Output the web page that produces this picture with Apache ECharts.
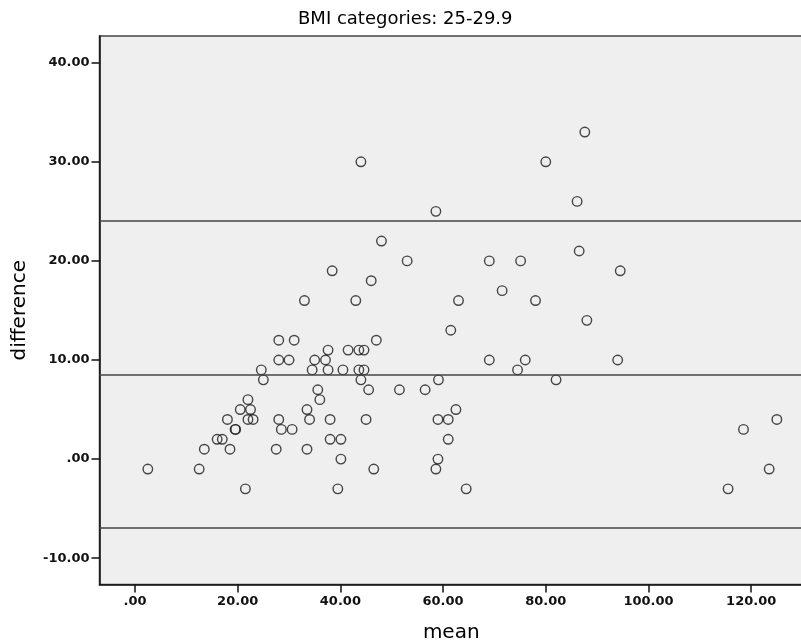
<!DOCTYPE html>
<html>
<head>
<meta charset="utf-8">
<script src="https://cdn.jsdelivr.net/npm/echarts@6/dist/echarts.min.js"></script>
<style>
html,body{margin:0;padding:0;background:#fff;}
#chart{width:801px;height:640px;}
</style>
</head>
<body>
<div id="chart"></div>
<script>
// Bland-Altman style data: mean (x) and difference (y)
const meanVals = [
  87.6,
  44.0, 80.0,
  86.1,
  58.6,
  48.0,
  86.5,
  53.0, 69.0, 75.1,
  38.4, 94.5,
  46.0,
  71.5,
  33.0, 43.0, 63.0, 78.0,
  88.0,
  61.5,
  28.0, 31.0, 47.0,
  37.6, 41.5, 43.6, 44.6,
  28.0, 30.0, 35.0, 37.1, 69.0, 76.0, 94.0,
  24.6, 34.5, 37.6, 40.5, 43.6, 44.6, 74.5,
  25.0, 44.0, 59.1, 82.0,
  35.6, 45.5, 51.5, 56.5,
  22.0, 36.0,
  20.5, 22.5, 33.5, 62.5,
  18.0, 22.0, 23.0, 28.0, 34.0, 38.0, 45.0, 59.0, 61.0, 125.0,
  19.5, 19.6, 28.5, 30.6, 118.5,
  16.0, 17.0, 38.0, 40.1, 61.0,
  13.5, 18.5, 27.5, 33.5,
  40.1, 59.0,
  2.5, 12.5, 46.5, 58.6, 123.5,
  21.5, 39.5, 64.5, 115.5
];
const diffVals = [
  33,
  30, 30,
  26,
  25,
  22,
  21,
  20, 20, 20,
  19, 19,
  18,
  17,
  16, 16, 16, 16,
  14,
  13,
  12, 12, 12,
  11, 11, 11, 11,
  10, 10, 10, 10, 10, 10, 10,
  9, 9, 9, 9, 9, 9, 9,
  8, 8, 8, 8,
  7, 7, 7, 7,
  6, 6,
  5, 5, 5, 5,
  4, 4, 4, 4, 4, 4, 4, 4, 4, 4,
  3, 3, 3, 3, 3,
  2, 2, 2, 2, 2,
  1, 1, 1, 1,
  0, 0,
  -1, -1, -1, -1, -1,
  -3, -3, -3, -3
];
// Reference lines: upper limit, mean difference, lower limit
const refLines = [24.0, 8.55, -6.9];
const xTicks = [0, 20, 40, 60, 80, 100, 120];
const yTicks = [-10, 0, 10, 20, 30, 40];
const titleText = 'BMI categories: 25-29.9';

const points = meanVals.map((m, i) => [m, diffVals[i]]);
const fmt = v => (v === 0 ? '.00' : Number(v).toFixed(2));
const FONT = 'DejaVu Sans';

const chart = echarts.init(document.getElementById('chart'), null, {renderer: 'canvas'});
chart.setOption({
  animation: false,
  backgroundColor: '#ffffff',
  title: {
    text: titleText,
    left: 298,
    top: 10,
    padding: 0,
    textStyle: {fontFamily: FONT, fontSize: 18, fontWeight: 'normal', color: '#000'}
  },
  grid: {
    left: 99.5, right: -2, top: 36, bottom: 55.5,
    containLabel: false,
    outerBoundsMode: 'none',
    show: true, backgroundColor: '#efefef', borderColor: '#444', borderWidth: 1.5
  },
  xAxis: {
    type: 'value',
    min: -6.91, max: 130.09,
    name: 'mean',
    nameLocation: 'middle',
    nameGap: 38,
    nameTextStyle: {fontFamily: FONT, fontSize: 20, color: '#000'},
    axisLine: {show: true, onZero: false, lineStyle: {color: '#111', width: 1.5}},
    axisTick: {show: true, customValues: xTicks, length: 8, lineStyle: {color: '#111', width: 1.5}},
    axisLabel: {customValues: xTicks, formatter: fmt, margin: 11,
      fontFamily: FONT, fontSize: 13, fontWeight: 'bold', color: '#111'},
    splitLine: {show: false}
  },
  yAxis: {
    type: 'value',
    min: -12.65, max: 42.69,
    name: 'difference',
    nameLocation: 'middle',
    nameGap: 70,
    nameRotate: 90,
    nameTextStyle: {fontFamily: FONT, fontSize: 20, color: '#000'},
    axisLine: {show: true, onZero: false, lineStyle: {color: '#111', width: 1.5}},
    axisTick: {show: true, customValues: yTicks, length: 8, lineStyle: {color: '#111', width: 1.5}},
    axisLabel: {customValues: yTicks, formatter: fmt, margin: 10,
      fontFamily: FONT, fontSize: 13, fontWeight: 'bold', color: '#111'},
    splitLine: {show: false}
  },
  series: [{
    type: 'scatter',
    data: points,
    symbol: 'circle',
    symbolSize: 9.5,
    itemStyle: {color: 'rgba(0,0,0,0)', borderColor: '#1a1a1a', borderWidth: 1.4},
    markLine: {
      silent: true,
      symbol: ['none', 'none'],
      label: {show: false},
      lineStyle: {color: '#444', width: 1.5, type: 'solid'},
      data: refLines.map(v => ({yAxis: v}))
    }
  }]
});
</script>
</body>
</html>
